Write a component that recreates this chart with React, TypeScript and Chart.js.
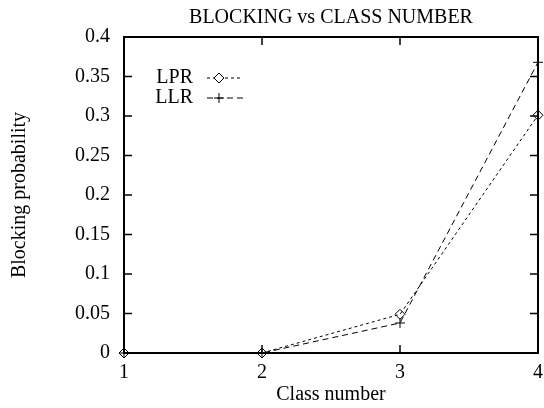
import React, { useEffect, useRef } from "react";
import { Chart, registerables } from "chart.js";

Chart.register(...registerables);

const classes = [1, 2, 3, 4];
const lprValues = [0, 0, 0.049, 0.301];
const llrValues = [0, 0, 0.038, 0.368];
const yTickValues = [0, 0.05, 0.1, 0.15, 0.2, 0.25, 0.3, 0.35, 0.4];
const xTickValues = [1, 2, 3, 4];
const seriesNames = ["LPR", "LLR"];
const titleText = "BLOCKING vs CLASS NUMBER";
const xTitle = "Class number";
const yTitle = "Blocking probability";

const FONT = "'Liberation Serif', 'Times New Roman', serif";

const framePlugin = {
  id: "gnuFrame",
  afterDraw(chart: any) {
    const { ctx, chartArea } = chart;
    const { left, right, top, bottom } = chartArea;
    const xs = chart.scales.x;
    const ys = chart.scales.y;
    ctx.save();
    ctx.strokeStyle = "#000";
    ctx.setLineDash([]);
    ctx.lineWidth = 2;
    ctx.strokeRect(left, top, right - left, bottom - top);
    ctx.lineWidth = 1.5;
    const tl = 8;
    ctx.beginPath();
    yTickValues.forEach((v) => {
      const y = ys.getPixelForValue(v);
      ctx.moveTo(left, y);
      ctx.lineTo(left + tl, y);
      ctx.moveTo(right, y);
      ctx.lineTo(right - tl, y);
    });
    xTickValues.forEach((v) => {
      const x = xs.getPixelForValue(v);
      ctx.moveTo(x, bottom);
      ctx.lineTo(x, bottom - tl);
      ctx.moveTo(x, top);
      ctx.lineTo(x, top + tl);
    });
    ctx.stroke();

    // title
    ctx.fillStyle = "#000";
    ctx.font = `20px ${FONT}`;
    ctx.textAlign = "center";
    ctx.textBaseline = "middle";
    ctx.fillText(titleText, (left + right) / 2, 18);

    // legend
    const rows = [
      { name: seriesNames[0], dash: [3, 3], style: "diamond" },
      { name: seriesNames[1], dash: [6, 4], style: "plus" },
    ];
    rows.forEach((r, i) => {
      const y = 78 + i * 20;
      ctx.textAlign = "right";
      ctx.textBaseline = "middle";
      ctx.fillText(r.name, 193, y);
      ctx.lineWidth = 1;
      ctx.setLineDash(r.dash);
      ctx.beginPath();
      ctx.moveTo(207, y);
      ctx.lineTo(243, y);
      ctx.stroke();
      ctx.setLineDash([]);
      const cx = 219;
      ctx.beginPath();
      if (r.style === "diamond") {
        ctx.moveTo(cx, y - 5);
        ctx.lineTo(cx + 5, y);
        ctx.lineTo(cx, y + 5);
        ctx.lineTo(cx - 5, y);
        ctx.closePath();
        ctx.fillStyle = "#fff";
        ctx.fill();
        ctx.fillStyle = "#000";
      } else {
        ctx.moveTo(cx - 5, y);
        ctx.lineTo(cx + 5, y);
        ctx.moveTo(cx, y - 5);
        ctx.lineTo(cx, y + 5);
      }
      ctx.stroke();
    });
    ctx.restore();
  },
};

export default function App() {
  const ref = useRef<HTMLCanvasElement | null>(null);
  useEffect(() => {
    document.body.style.margin = "0";
    if (!ref.current) return;
    const chart = new Chart(ref.current, {
      type: "line",
      data: {
        datasets: [
          {
            label: seriesNames[0],
            data: classes.map((c, i) => ({ x: c, y: lprValues[i] })),
            borderColor: "#000",
            borderWidth: 1,
            borderDash: [3, 3],
            pointStyle: "rectRot",
            pointRadius: 5,
            pointBorderWidth: 1,
            pointBorderColor: "#000",
            pointBackgroundColor: "rgba(255,255,255,0)",
            fill: false,
            tension: 0,
            clip: false,
          } as any,
          {
            label: seriesNames[1],
            data: classes.map((c, i) => ({ x: c, y: llrValues[i] })),
            borderColor: "#000",
            borderWidth: 1,
            borderDash: [6, 4],
            pointStyle: "cross",
            pointRadius: 5,
            pointBorderWidth: 1,
            pointBorderColor: "#000",
            pointBackgroundColor: "#000",
            fill: false,
            tension: 0,
            clip: false,
          } as any,
        ],
      },
      plugins: [framePlugin],
      options: {
        animation: false,
        responsive: false,
        maintainAspectRatio: false,
        layout: { padding: { left: 0, right: 4, top: 37, bottom: 0 } },
        plugins: {
          legend: { display: false },
          title: { display: false },
          tooltip: { enabled: false },
        },
        scales: {
          x: {
            type: "linear",
            min: 1,
            max: 4,
            afterBuildTicks: (s: any) => {
              s.ticks = xTickValues.map((v) => ({ value: v }));
            },
            afterFit: (s: any) => {
              s.height = 55;
              s.paddingLeft = 0;
              s.paddingRight = 0;
            },
            ticks: {
              color: "#000",
              font: { family: FONT, size: 20 },
              padding: 8,
              maxRotation: 0,
              autoSkip: false,
              callback: (v: any) => String(v),
            },
            grid: { display: false, drawTicks: false },
            border: { display: false },
            title: {
              display: true,
              text: xTitle,
              color: "#000",
              font: { family: FONT, size: 20 },
              padding: { top: 0, bottom: 1 },
            },
          },
          y: {
            type: "linear",
            min: 0,
            max: 0.4,
            afterBuildTicks: (s: any) => {
              s.ticks = yTickValues.map((v) => ({ value: v }));
            },
            afterFit: (s: any) => {
              s.width = 124;
              s.paddingTop = 0;
              s.paddingBottom = 0;
            },
            ticks: {
              color: "#000",
              font: { family: FONT, size: 20 },
              padding: 14,
              autoSkip: false,
              callback: (v: any) => String(Math.round(Number(v) * 100) / 100),
            },
            grid: { display: false, drawTicks: false },
            border: { display: false },
            title: {
              display: true,
              text: yTitle,
              color: "#000",
              font: { family: FONT, size: 20 },
              padding: { top: 8, bottom: 0 },
            },
          },
        },
      } as any,
    });
    return () => chart.destroy();
  }, []);
  return (
    <div style={{ position: "absolute", left: 0, top: 0, width: 544, height: 408 }}>
      <canvas ref={ref} width={544} height={408} style={{ display: "block" }} />
    </div>
  );
}
